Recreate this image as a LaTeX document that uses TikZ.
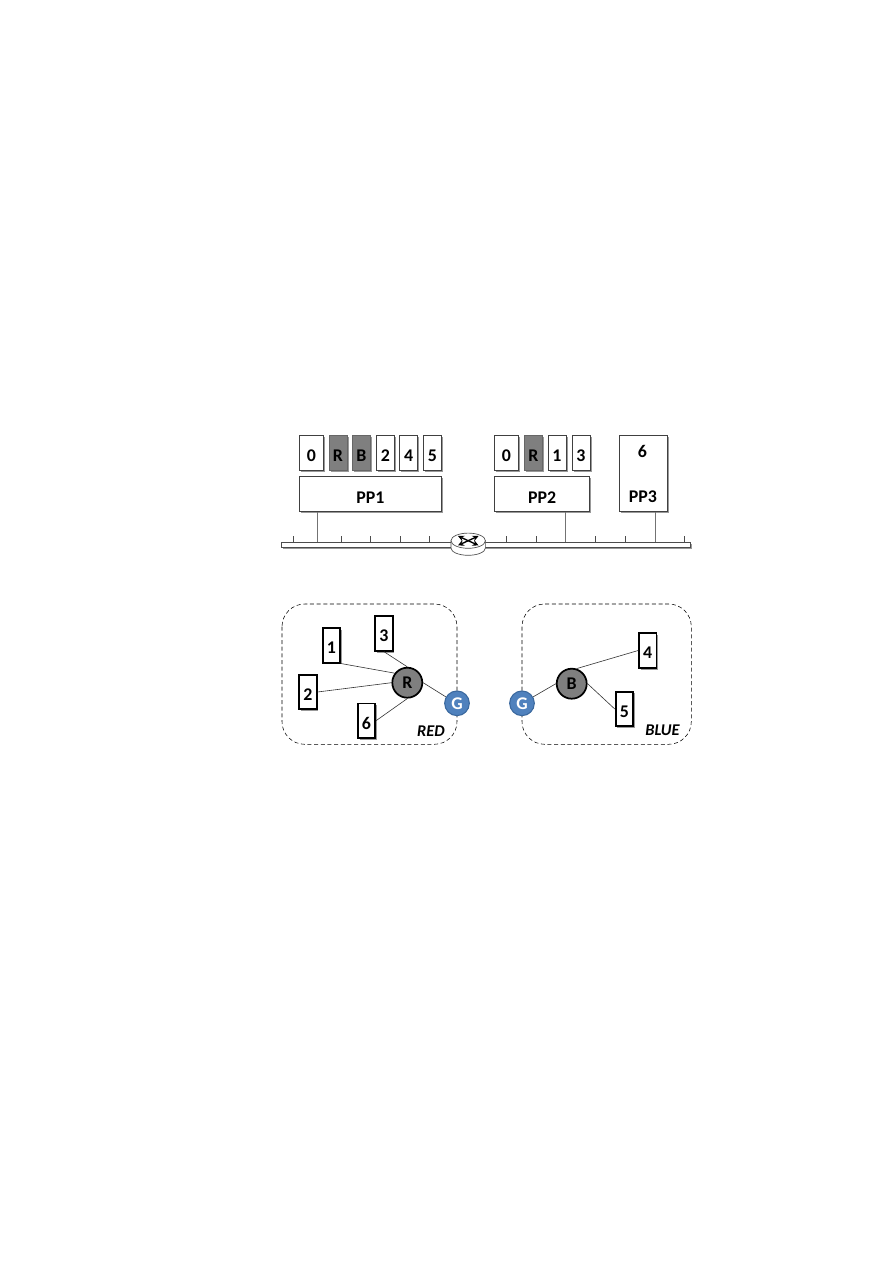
\documentclass[tikz,border=0pt]{standalone}
\usepackage{fontspec}
\setmainfont{Carlito}
\usetikzlibrary{shadows}
\usetikzlibrary{shapes}

\definecolor{cellGray}{HTML}{7F7F7F}
\definecolor{gwBlue}{HTML}{4F81BD}
\definecolor{gwEdge}{HTML}{3A689E}

\begin{document}
\begin{tikzpicture}[x = 0.75pt, y = -0.75pt, font=\bfseries\fontsize{13.4}{15}\selectfont]
\tikzstyle{softShadow} = [drop shadow={shadow xshift=1.3pt, shadow yshift=-1.3pt, fill=black, opacity=0.4}]
\tikzstyle{cellStyle}=[shape = rectangle, draw = black!75, line width = 0.5pt, fill = white, minimum width = 13.5pt, minimum height = 26.6pt, inner sep = 0pt, text height = 12.9pt, text depth = 0pt, softShadow]
\tikzstyle{wideCell}=[cellStyle, minimum width = 18pt]
\tikzstyle{darkCell}=[cellStyle, fill = cellGray, draw = black!60]
\tikzstyle{hostStyle}=[cellStyle, minimum height = 26.6pt, text height = 14.4pt]
\tikzstyle{memberStyle}=[shape = rectangle, draw, line width = 1.3pt, fill = white, minimum width = 13pt, minimum height = 26pt, inner sep = 0pt, text height = 12.5pt, text depth = 0pt, softShadow]
\tikzstyle{routerStyle}=[shape = circle, draw, line width = 1.3pt, fill = cellGray, minimum size = 22.5pt, inner sep = 0pt]
\tikzstyle{gatewayStyle}=[shape = circle, draw = gwEdge, line width = 0.8pt, fill = gwBlue, text = white, minimum size = 18.5pt, inner sep = 0pt]
\tikzstyle{vlanStyle}=[draw, densely dashed, line width = 0.4pt, rounded corners = 17pt]
\tikzstyle{treeEdge}=[draw = black!80, line width = 0.45pt]
\tikzstyle{linkEdge}=[draw = black!55, line width = 0.6pt]
\tikzstyle{tickEdge}=[draw = black!70, line width = 0.4pt]
\tikzstyle{swArrow}=[black, line width = 1pt, -stealth]
\tikzstyle{tagStyle}=[font=\bfseries\itshape\fontsize{12.3}{14}\selectfont]
\useasboundingbox (0,0) rectangle (893,1263);

% bus and its ticks
\node[shape = rectangle, draw = black!70, line width = 0.4pt, fill = white, minimum width = 306.8pt, minimum height = 3.7pt, inner sep = 0pt, softShadow] (bus) at (486.2,544.8) {};
\foreach \x in {293.3,341,370.3,400,429.7,506.3,536.3,595.3,625.3,684.3}
  \draw[tickEdge] (\x,536) -- (\x,542.3);
\coordinate (l1) at (317,542.3);
\coordinate (l2) at (565.7,542.3);
\coordinate (l3) at (655,542.3);

% hosts
\node[hostStyle, minimum width = 106.8pt] (pp1) at (370.5,494) {PP1};
\node[hostStyle, minimum width = 71.2pt] (pp2) at (542.2,494) {PP2};
\node[cellStyle, minimum width = 35.5pt, minimum height = 57.5pt, text height = 0pt] (pp3) at (643.3,473.3) {};
\node (l6) at (642.3,451) {6};
\node (lp3) at (643,497) {PP3};
\draw[linkEdge] (l1 |- pp1.south) -- (l1);
\draw[linkEdge] (l2 |- pp2.south) -- (l2);
\draw[linkEdge] (l3 |- pp3.south) -- (l3);

% slots of PP1
\node[wideCell] (a0) at (311.3,452.8) {0};
\node[darkCell] (a1) at (338,452.8) {R};
\node[darkCell] (a2) at (361.3,452.8) {B};
\node[cellStyle] (a3) at (385.3,452.8) {2};
\node[cellStyle] (a4) at (408.7,452.8) {4};
\node[cellStyle] (a5) at (432.5,452.8) {5};

% slots of PP2
\node[wideCell] (b0) at (506.5,452.8) {0};
\node[darkCell] (b1) at (533.3,452.8) {R};
\node[cellStyle] (b2) at (557,452.8) {1};
\node[cellStyle] (b3) at (581,452.8) {3};

% router on the bus
\draw[draw = black!70, line width = 0.5pt, fill = white] (451,541) -- (451,548) arc[start angle = 180, end angle = 0, x radius = 17.2, y radius = 7.3] -- (485.4,541) -- cycle;
\node[shape = ellipse, draw = black!70, line width = 0.5pt, fill = white, minimum width = 25.8pt, minimum height = 11.4pt, inner sep = 0pt] (switch) at (468.2,540.7) {};
\draw[swArrow] (switch.center) -- (458,536);
\draw[swArrow] (switch.center) -- (478.5,536);
\draw[swArrow] (switch.center) -- (458,545.4);
\draw[swArrow] (switch.center) -- (478.5,545.4);

% RED
\draw[vlanStyle] (282,604) rectangle (457,744.3);
\node[routerStyle] (r) at (407.3,682.7) {R};
\node[gatewayStyle] (g1) at (457,703.3) {G};
\node[memberStyle] (v1) at (331.3,645.3) {1};
\node[memberStyle] (v3) at (384,633.5) {3};
\node[memberStyle] (v2) at (308,692) {2};
\node[memberStyle] (v6) at (366.5,720.7) {6};
\draw[treeEdge] (v1.south east) -- (r.143);
\draw[treeEdge] (v3.south) -- (r.north);
\draw[treeEdge] (v2.east) -- (r.west);
\draw[treeEdge] (v6.east) -- (r.south);
\draw[treeEdge] (r.east) -- (g1.150);
\node[tagStyle] (lred) at (431,730.7) {RED};

% BLUE
\draw[vlanStyle] (522,604) rectangle (691.3,744.3);
\node[routerStyle] (s) at (571.7,683.7) {B};
\node[gatewayStyle] (g2) at (522,703.3) {G};
\node[memberStyle] (v4) at (647.7,650.5) {4};
\node[memberStyle] (v5) at (624.3,709) {5};
\draw[treeEdge] (s.72) -- (v4.west);
\draw[treeEdge] (s.east) -- (v5.west);
\draw[treeEdge] (s.west) -- (g2.30);
\node[tagStyle] (lblue) at (662.5,730.7) {BLUE};
\end{tikzpicture}
\end{document}
